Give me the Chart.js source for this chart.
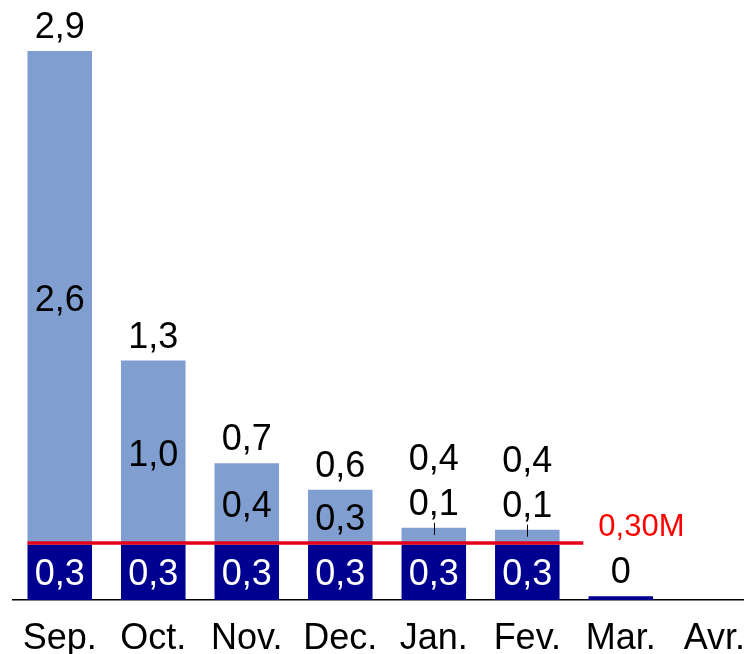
<!DOCTYPE html>
<html lang="fr">
  <head>
    <meta charset="UTF-8" />
    <title>Valeurs mensuelles</title>
    <script src="https://cdn.jsdelivr.net/npm/chart.js"></script>
    <style>
      html, body { margin: 0; padding: 0; overflow: hidden; background: #fff; }
      canvas { display: block; }
    </style>
  </head>
  <body>
    <canvas id="monthChart" width="766" height="654"></canvas>

    <script>
      const months = ["Sep.", "Oct.", "Nov.", "Dec.", "Jan.", "Fev.", "Mar.", "Avr."];
      const baseValues = [0.29, 0.29, 0.29, 0.29, 0.29, 0.29, 0.02, null];
      const extraValues = [2.6, 0.97, 0.43, 0.29, 0.09, 0.08, 0, null];
      const threshold = 0.3;
      const thresholdLabel = "0,30M";

      const fmt = (v) => (v < 0.05 ? "0" : v.toFixed(1).replace(".", ","));
      const FONT = "'Liberation Sans', Arial, sans-serif";
      const DY = 3; // canvas "middle" sits a bit above the digits' visual centre

      const labelsPlugin = {
        id: "labels",
        afterDatasetsDraw(chart) {
          const ctx = chart.ctx;
          const base = chart.getDatasetMeta(0).data;
          const top = chart.getDatasetMeta(1).data;
          const x = chart.scales.x;
          const y = chart.scales.y;
          ctx.save();

          // threshold line
          const ly = y.getPixelForValue(threshold);
          const x0 = base[0].x - base[0].width / 2;
          const x1 = x.getPixelForValue(5) + 56;
          ctx.strokeStyle = "#e3001b";
          ctx.lineWidth = 3.5;
          ctx.beginPath();
          ctx.moveTo(x0, ly);
          ctx.lineTo(x1, ly);
          ctx.stroke();
          ctx.fillStyle = "#ff0000";
          ctx.font = "31px " + FONT;
          ctx.textAlign = "left";
          ctx.textBaseline = "middle";
          ctx.fillText(thresholdLabel, x1 + 15, ly - 19 + DY);

          ctx.font = "36px " + FONT;
          ctx.textAlign = "center";
          months.forEach((m, i) => {
            if (baseValues[i] == null) return;
            const b = base[i];
            const t = top[i];
            if (b.base - b.y > 30) {
              ctx.fillStyle = "#ffffff";
              ctx.fillText(fmt(baseValues[i]), b.x, (b.y + b.base) / 2 + DY);
            }
            let stackTop = t.y;
            ctx.fillStyle = "#000000";
            if (extraValues[i] > 0) {
              const h = t.base - t.y;
              if (h > 40) {
                ctx.fillText(fmt(extraValues[i]), t.x, (t.y + t.base) / 2 + DY);
              } else {
                ctx.fillText(fmt(extraValues[i]), t.x, t.y - 26 + DY);
                ctx.strokeStyle = "#000000";
                ctx.lineWidth = 1;
                ctx.beginPath();
                ctx.moveTo(Math.round(t.x) + 0.5, t.y - 5);
                ctx.lineTo(Math.round(t.x) + 0.5, t.y + 7);
                ctx.stroke();
                stackTop = t.y - 45;
              }
            }
            ctx.fillText(fmt(baseValues[i] + extraValues[i]), t.x, stackTop - 26 + DY);
          });
          ctx.restore();
        },
      };

      const ctx = document.getElementById("monthChart").getContext("2d");
      new Chart(ctx, {
        type: "bar",
        data: {
          labels: months,
          datasets: [
            {
              data: baseValues,
              backgroundColor: "#000090",
              barPercentage: 0.69,
              categoryPercentage: 1,
            },
            {
              data: extraValues,
              backgroundColor: "#809fd0",
              barPercentage: 0.69,
              categoryPercentage: 1,
            },
          ],
        },
        options: {
          responsive: false,
          animation: false,
          layout: { padding: { top: 30, left: 13, right: 0, bottom: 0 } },
          plugins: { legend: { display: false }, tooltip: { enabled: false } },
          scales: {
            x: {
              stacked: true,
              grid: { display: false, drawTicks: false },
              border: { display: true, color: "#000000", width: 1.5 },
              ticks: {
                color: "#000000",
                padding: 21,
                font: { family: FONT, size: 36, lineHeight: 1 },
              },
              afterFit(scale) {
                scale.height = 54;
              },
            },
            y: {
              stacked: true,
              display: false,
              min: 0,
              max: 3.0,
            },
          },
        },
        plugins: [labelsPlugin],
      });
    </script>
  </body>
</html>
